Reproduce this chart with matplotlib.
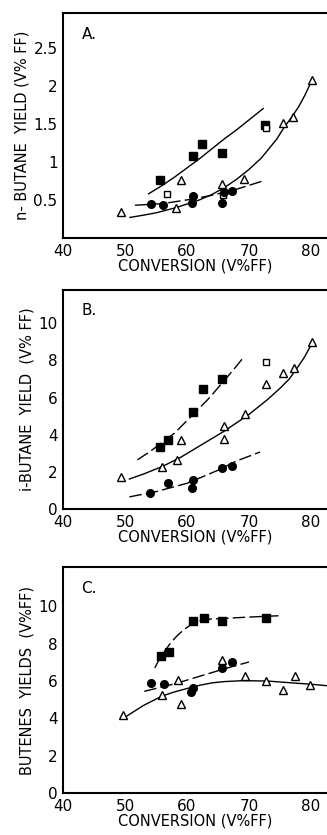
import numpy as np
import matplotlib
matplotlib.use("Agg")
import matplotlib.pyplot as plt

# ---- panel A: n-butane yield ----
a_sq_x = [55.6, 60.9, 62.5, 65.6, 72.6]
a_sq_y = [0.76, 1.08, 1.24, 1.11, 1.49]
a_osq_x = [56.8, 65.8, 72.7]
a_osq_y = [0.58, 0.57, 1.44]
a_ci_x = [54.2, 56.2, 60.9, 60.8, 65.7, 65.9, 67.2]
a_ci_y = [0.45, 0.43, 0.55, 0.46, 0.46, 0.61, 0.62]
a_tr_x = [49.3, 58.3, 59.0, 65.7, 69.2, 75.5, 77.1, 80.1]
a_tr_y = [0.34, 0.40, 0.76, 0.71, 0.77, 1.51, 1.59, 2.08]
a_fit_sq_x = [53.8, 56, 58, 60, 62, 64, 66, 68, 70, 72.3]
a_fit_sq_y = [0.58, 0.69, 0.80, 0.92, 1.04, 1.17, 1.30, 1.42, 1.55, 1.70]
a_fit_tr_x = [50.8, 53, 55, 58.3, 62, 64, 66, 68, 70, 72, 73, 74.5, 75.5, 77, 78, 79, 80.1]
a_fit_tr_y = [0.27, 0.30, 0.33, 0.40, 0.50, 0.57, 0.66, 0.77, 0.90, 1.05, 1.15, 1.30, 1.43, 1.60, 1.72, 1.87, 2.06]
a_fit_ci_x = [51.6, 56, 60, 64, 68, 72.3]
a_fit_ci_y = [0.43, 0.45, 0.50, 0.56, 0.64, 0.75]

# ---- panel B: i-butane yield ----
b_sq_x = [55.6, 56.9, 60.9, 62.6, 65.7]
b_sq_y = [3.35, 3.70, 5.25, 6.47, 7.01]
b_osq_x = [72.7]
b_osq_y = [7.92]
b_ci_x = [54.1, 57.0, 60.8, 61.0, 65.7, 67.2]
b_ci_y = [0.87, 1.41, 1.14, 1.59, 2.23, 2.32]
b_tr_x = [49.4, 56.0, 58.4, 59.0, 65.9, 65.9, 69.3, 72.8, 75.5, 77.3, 80.1]
b_tr_y = [1.72, 2.30, 2.66, 3.75, 4.49, 3.80, 5.11, 6.74, 7.30, 7.61, 8.97]
b_fit_sq_x = [52.0, 54, 55.6, 58, 61, 63.5, 65.7, 67.5, 69.2]
b_fit_sq_y = [2.66, 3.1, 3.5, 4.1, 5.1, 5.95, 6.8, 7.5, 8.2]
b_fit_tr_x = [50.7, 53, 56, 59, 62, 66, 70, 73, 75, 76.5, 78, 79, 80.1]
b_fit_tr_y = [1.63, 1.9, 2.3, 2.8, 3.4, 4.2, 5.1, 5.9, 6.5, 7.0, 7.7, 8.2, 8.88]
b_fit_ci_x = [50.7, 55, 60, 65, 68, 71.8]
b_fit_ci_y = [0.67, 0.95, 1.4, 2.1, 2.6, 3.08]

# ---- panel C: butenes yields ----
c_sq_x = [55.8, 57.1, 60.9, 62.7, 65.7, 72.7]
c_sq_y = [7.36, 7.55, 9.23, 9.38, 9.23, 9.38]
c_ci_x = [54.2, 56.3, 60.7, 61.0, 65.7, 67.2]
c_ci_y = [5.89, 5.86, 5.41, 5.63, 6.70, 7.02]
c_tr_x = [49.6, 56.0, 58.5, 59.0, 65.7, 69.3, 72.7, 75.5, 77.4, 79.9]
c_tr_y = [4.16, 5.27, 6.07, 4.79, 7.10, 6.25, 5.98, 5.54, 6.25, 5.77]
c_fit_sq_x = [54.8, 55.5, 56.5, 57.5, 58.5, 59.5, 61, 62, 63, 66, 70, 75.4]
c_fit_sq_y = [6.7, 7.15, 7.65, 8.1, 8.45, 8.75, 9.1, 9.22, 9.3, 9.35, 9.42, 9.5]
c_fit_ci_x = [53.1, 58, 62, 66, 70]
c_fit_ci_y = [5.45, 5.85, 6.25, 6.65, 7.02]
c_fit_tr_x = [50.2, 53, 56, 58, 60, 62, 64, 66, 69, 73, 77, 80, 82.6]
c_fit_tr_y = [4.11, 4.7, 5.2, 5.42, 5.6, 5.77, 5.9, 5.97, 6.02, 6.0, 5.9, 5.83, 5.75]

dash = (0, (9, 3))

fig = plt.figure(figsize=(3.27, 8.35), dpi=100)

def setup(ax, letter, ylabel, ylim, yticks, yticklabels):
    ax.set_xlim(40, 82.6)
    ax.set_ylim(*ylim)
    ax.set_xticks([40, 50, 60, 70, 80])
    ax.set_yticks(yticks)
    ax.set_yticklabels(yticklabels)
    ax.spines["right"].set_visible(False)
    for s in ["left", "top", "bottom"]:
        ax.spines[s].set_linewidth(1.5)
    ax.tick_params(length=0, labelsize=11, pad=4)
    ax.set_xlabel("CONVERSION (V%FF)", fontsize=10.5, labelpad=0)
    ax.set_ylabel(ylabel, fontsize=10.5, labelpad=3)
    ax.text(0.07, 0.94, letter, transform=ax.transAxes, fontsize=11,
            va="top", ha="left")

def draw(ax, sq, osq, ci, tr, fits):
    for (fx, fy), ls in fits:
        ax.plot(fx, fy, color="black", lw=1.0, ls=ls)
    ax.plot(sq[0], sq[1], "s", color="black", ms=6)
    if osq is not None:
        ax.plot(osq[0], osq[1], "s", mfc="white", mec="black", ms=5, mew=1)
    ax.plot(ci[0], ci[1], "o", color="black", ms=5.5)
    ax.plot(tr[0], tr[1], "^", mfc="white", mec="black", ms=5.5, mew=1)

ax1 = fig.add_axes([0.193, 0.715, 0.807, 0.269])
setup(ax1, "A.", "n- BUTANE  YIELD (V% FF)", (0, 2.95),
      [0.5, 1, 1.5, 2, 2.5], ["0.5", "1", "1.5", "2", "2.5"])
draw(ax1, (a_sq_x, a_sq_y), (a_osq_x, a_osq_y), (a_ci_x, a_ci_y),
     (a_tr_x, a_tr_y),
     [((a_fit_sq_x, a_fit_sq_y), "-"), ((a_fit_tr_x, a_fit_tr_y), "-"),
      ((a_fit_ci_x, a_fit_ci_y), dash)])

ax2 = fig.add_axes([0.193, 0.390, 0.807, 0.263])
setup(ax2, "B.", "i-BUTANE  YIELD  (V% FF)", (0, 11.8),
      [0, 2, 4, 6, 8, 10], ["0", "2", "4", "6", "8", "10"])
draw(ax2, (b_sq_x, b_sq_y), (b_osq_x, b_osq_y), (b_ci_x, b_ci_y),
     (b_tr_x, b_tr_y),
     [((b_fit_sq_x, b_fit_sq_y), dash), ((b_fit_tr_x, b_fit_tr_y), "-"),
      ((b_fit_ci_x, b_fit_ci_y), dash)])

ax3 = fig.add_axes([0.193, 0.050, 0.807, 0.271])
setup(ax3, "C.", "BUTENES  YIELDS  (V%FF)", (0, 12.1),
      [0, 2, 4, 6, 8, 10], ["0", "2", "4", "6", "8", "10"])
draw(ax3, (c_sq_x, c_sq_y), None, (c_ci_x, c_ci_y), (c_tr_x, c_tr_y),
     [((c_fit_sq_x, c_fit_sq_y), dash), ((c_fit_ci_x, c_fit_ci_y), dash),
      ((c_fit_tr_x, c_fit_tr_y), "-")])

fig.savefig("out.png", dpi=100)
